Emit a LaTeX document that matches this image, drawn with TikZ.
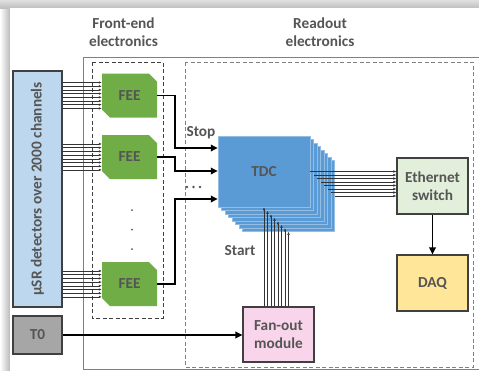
\documentclass[tikz,border=0pt]{standalone}
\usepackage{fontspec}
\setmainfont{Carlito}
\usetikzlibrary{calc,arrows.meta,shapes.misc}

\definecolor{detblue}{HTML}{BDD7EE}
\definecolor{feegreen}{HTML}{70AD47}
\definecolor{tdcblue}{HTML}{5B9BD5}
\definecolor{ethgreen}{HTML}{E2EFDA}
\definecolor{daqyellow}{HTML}{FFE699}
\definecolor{fanpink}{HTML}{F9D5EC}
\definecolor{tzgray}{HTML}{A6A6A6}
\definecolor{txtgray}{HTML}{555555}
\definecolor{framegray}{HTML}{808080}

\tikzset{
  lbl/.style={font=\fontsize{15.3}{18}\selectfont\bfseries, text=txtgray, align=center},
  blockbox/.style={lbl, draw=black!75, line width=1.1pt, inner sep=0pt},
  feebox/.style={lbl, chamfered rectangle, chamfered rectangle corners={north east,south west},
    chamfered rectangle xsep=4pt, chamfered rectangle ysep=4pt, fill=feegreen,
    minimum width=55pt, minimum height=44pt, inner sep=0pt},
  tdclayer/.style={lbl, fill=tdcblue, draw=tdcblue!65!white, line width=0.5pt,
    minimum width=92pt, minimum height=71pt, inner sep=0pt},
  thinarrow/.style={draw=black!80, line width=0.45pt, -{Latex[length=3pt,width=2.4pt]}},
  bigarrow/.style={line width=1.9pt, -{Triangle[length=7pt,width=6.5pt]}},
  dashbox/.style={dashed, dash pattern=on 4pt off 2.5pt, line width=0.8pt}
}

\begin{document}
\begin{tikzpicture}[x=1pt,y=-1pt]
  \useasboundingbox (0,0) rectangle (479,370);

  % page with a soft shadow round it
  \fill[gray!35] (0,0) rectangle (479,370);
  \shade[left color=white, right color=gray!55] (0,8) rectangle (10,370);
  \shade[top color=gray!25, bottom color=gray!50] (0,0) rectangle (479,8);
  \fill[white] (10,8) rectangle (479,370);

  % headings
  \node[lbl] (fetitle) at (123.5,32) {Front-end\\electronics};
  \node[lbl] (rotitle) at (320,32) {Readout\\electronics};

  % frames
  \draw[framegray, line width=0.8pt] (479,57) -- (83,57) -- (83,369) -- (479,369);
  \draw[dashbox, black!75] (92,62) rectangle (163,318);
  \draw[dashbox, framegray] (185,62) rectangle (473,367);

  % detectors and T0
  \node[blockbox, fill=detblue, minimum width=49pt, minimum height=236pt] (det) at (37.5,189) {};
  \node[lbl, rotate=90] (detlbl) at (det.center) {µSR detectors over 2000 channels};
  \node[blockbox, fill=tzgray, minimum width=49pt, minimum height=38pt] (t0) at (37.5,335) {T0};

  % front-end boards
  \node[feebox] (fee1) at (129.5,95.5) {FEE};
  \node[feebox] (fee2) at (129.5,157) {FEE};
  \node[feebox] (fee3) at (129.5,284) {FEE};
  \foreach \y in {210,229.5,249}
    \fill[txtgray] (132,\y) circle (1pt);

  \foreach \f in {fee1,fee2,fee3}
    \foreach \i in {0,...,7} {
      \path ($(\f.west)+(0,{-13+3.7*\i})$) coordinate (fin);
      \draw[thinarrow] (det.east |- fin) -- (fin);
    }

  % TDC stack, back to front
  \foreach \k in {7,...,1}
    \node[tdclayer] (tdc\k) at ({264+3.5*\k},{171.5+3.5*\k}) {};
  \node[tdclayer] (tdc0) at (264,171.5) {TDC};

  % readout blocks
  \node[blockbox, fill=ethgreen, minimum width=71pt, minimum height=56pt] (eth) at (432.5,186) {Ethernet\\switch};
  \node[blockbox, fill=daqyellow, minimum width=71pt, minimum height=56pt] (daq) at (432.5,283) {DAQ};
  \node[blockbox, fill=fanpink, minimum width=71pt, minimum height=55pt] (fan) at (278.5,334.5) {Fan-out\\module};

  % stop signals
  \draw[bigarrow] (fee1.east) -- ++(18,0) |- ($(tdc0.west)+(0,-23.5)$);
  \draw[bigarrow] (fee2.east) -- ++(18,0) |- ($(tdc0.west)+(0,-0.5)$);
  \draw[bigarrow] (fee3.east) -- ++(18,0) |- ($(tdc0.west)+(0,27.5)$);
  \node[lbl] (stoplbl) at (201,133) {Stop};
  \foreach \x in {187,193.5,200}
    \fill[txtgray] (\x,187) circle (1.4pt);

  % start signals from the fan-out
  \foreach \k in {0,...,7}
    \draw[thinarrow] (fan.north -| tdc\k.south) -- (tdc\k.south);
  \node[lbl] (startlbl) at (240,251) {Start};

  % data out
  \foreach \k in {0,...,7}
    \draw[thinarrow] (tdc\k.east) -- (eth.west |- tdc\k.east);
  \draw[bigarrow] (eth) -- (daq);
  \draw[bigarrow] (t0.east) -- (fan.west |- t0.east);

\end{tikzpicture}
\end{document}
